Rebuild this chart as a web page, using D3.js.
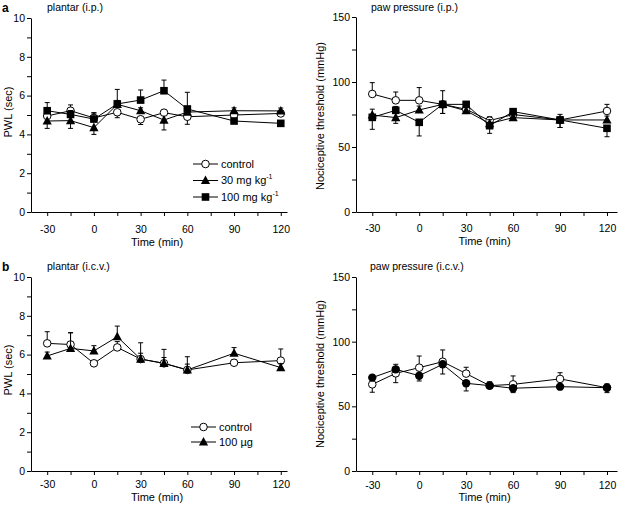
<!DOCTYPE html>
<html><head><meta charset="utf-8">
<script src="https://cdn.jsdelivr.net/npm/d3@7"></script>
<style>
body{margin:0;background:#fff;}
svg text{font-family:"Liberation Sans",Arial,Helvetica,sans-serif;fill:#000;}
</style></head>
<body><svg id="c" width="622" height="506"></svg>
<script>
// ---------- data ----------
const times = [-30, -15, 0, 15, 30, 45, 60, 90, 120];
const xTicks = [-30, 0, 30, 60, 90, 120];
const xMinorTicks = [-15, 15, 45, 75, 105];
const pwlTicks = [0, 2, 4, 6, 8, 10];
const pwlMinorTicks = [1, 3, 5, 7, 9];
const pawTicks = [0, 50, 100, 150];
const pawMinorTicks = [25, 75, 125];

// panel a, plantar (i.p.)  — signed error: + up, - down
const ipPwlControl    = [4.95, 5.22, 4.85, 5.14, 4.78, 5.12, 4.91, 5.00, 5.08];
const ipPwlControlErr = [0.2, 0.3, 0.25, -0.28, -0.27, 0.15, -0.39, 0.15, 0.15];
const ipPwl30         = [4.69, 4.71, 4.35, 5.55, 5.22, 4.74, 5.15, 5.22, 5.21];
const ipPwl30Err      = [-0.38, -0.4, -0.35, 0.2, 0.15, -0.51, 0.15, 0.15, 0.15];
const ipPwl100        = [5.22, 5.03, 4.79, 5.57, 5.77, 6.25, 5.31, 4.69, 4.57];
const ipPwl100Err     = [0.42, 0.2, 0.33, 0.75, 0.52, 0.55, 0.86, 0.1, 0.1];

// panel a, paw pressure (i.p.)
const ipPawControl    = [90.8, 85.9, 85.9, 82.8, 79.0, 70.3, 75.0, 70.8, 77.7];
const ipPawControlErr = [8.7, 6.4, 9.8, 10.5, 3, 3, 3, 4.3, 5.1];
const ipPaw30         = [74.6, 72.6, 78.5, 82.8, 77.9, 68.0, 72.6, 70.8, 70.8];
const ipPaw30Err      = [4.5, -4.4, 3, -7, 3, 3, 2, -5.8, 3];
const ipPaw100        = [72.8, 78.2, 69.0, 82.8, 82.8, 66.4, 77.2, 70.8, 64.4];
const ipPaw100Err     = [-9.2, 3, -10.5, -7, 2, -5.9, 2, -5.8, -6.5];

// panel b, plantar (i.c.v.)
const icvPwlControl    = [6.58, 6.52, 5.55, 6.37, 5.77, 5.55, 5.21, 5.58, 5.69];
const icvPwlControlErr = [0.6, 0.6, 0.15, 0.3, 0.84, 0.72, 0.68, 0.15, 0.6];
const icvPwl100        = [5.93, 6.32, 6.19, 6.92, 5.77, 5.55, 5.21, 6.07, 5.33];
const icvPwl100Err     = [0.2, 0.81, 0.27, 0.55, 0.3, 0.3, 0.3, 0.29, 0.2];

// panel b, paw pressure (i.c.v.)
const icvPawControl    = [67.0, 75.5, 79.9, 84.5, 75.3, 66.0, 67.0, 71.2, 64.4];
const icvPawControlErr = [-6.1, -7.2, 9, 9.1, 4.9, 3, 6.5, 4.8, -3.8];
const icvPaw100        = [72.2, 78.6, 73.7, 82.5, 67.8, 66.0, 64.0, 65.2, 64.4];
const icvPaw100Err     = [2, 3.9, -4.1, -7.5, -5.9, -2.3, -3.4, 1.5, 3];

// ---------- drawing ----------
const svg = d3.select("#c");
const fmt = d => String(d);

function marker(g, type, x, y) {
  if (type === "open") {
    g.append("circle").attr("cx", x).attr("cy", y).attr("r", 3.8)
      .attr("fill", "#fff").attr("stroke", "#000").attr("stroke-width", 1);
  } else if (type === "dot") {
    g.append("circle").attr("cx", x).attr("cy", y).attr("r", 4.2).attr("fill", "#000");
  } else if (type === "tri") {
    g.append("path").attr("d", `M${x},${y-5}L${x+4.6},${y+3.6}L${x-4.6},${y+3.6}Z`).attr("fill", "#000");
  } else if (type === "sq") {
    g.append("rect").attr("x", x-3.8).attr("y", y-3.8).attr("width", 7.6).attr("height", 7.6).attr("fill", "#000");
  }
}

function panel(cfg) {
  const g = svg.append("g");
  const x = d3.scaleLinear().domain(cfg.xDomain).range([cfg.left, cfg.right]);
  const y = d3.scaleLinear().domain(cfg.yDomain).range([cfg.bottom, cfg.top]);

  // axes
  g.append("g").attr("transform", `translate(${cfg.left},0)`)
    .call(d3.axisLeft(y).tickValues(cfg.yTicks).tickFormat(fmt).tickSize(4).tickSizeOuter(0).tickPadding(2));
  g.append("g").attr("transform", `translate(${cfg.left},0)`)
    .call(d3.axisLeft(y).tickValues(cfg.yMinor).tickSize(4).tickSizeOuter(0).tickFormat(""))
    .select(".domain").remove();
  g.append("g").attr("transform", `translate(0,${cfg.bottom})`)
    .call(d3.axisBottom(x).tickValues(xTicks).tickFormat(fmt).tickSize(4).tickSizeOuter(0).tickPadding(cfg.xPad));
  g.append("g").attr("transform", `translate(0,${cfg.bottom})`)
    .call(d3.axisBottom(x).tickValues(xMinorTicks).tickSize(4).tickSizeOuter(0).tickFormat(""))
    .select(".domain").remove();
  g.selectAll(".tick text").attr("font-size", 10.5).attr("font-family", "Liberation Sans, Arial, sans-serif");
  g.selectAll(".domain, .tick line").attr("stroke", "#000").attr("stroke-width", 1);

  // titles
  g.append("text").attr("x", (cfg.left + cfg.right) / 2 - 2).attr("y", cfg.bottom + cfg.xTitleOff)
    .attr("text-anchor", "middle").attr("font-size", 11).text("Time (min)");
  g.append("text").attr("transform", `translate(${cfg.yTitleX},${cfg.yTitleY}) rotate(-90)`)
    .attr("text-anchor", "middle").attr("font-size", 11).text(cfg.yTitle);
  g.append("text").attr("x", cfg.titleX).attr("y", cfg.titleY).attr("font-size", 10.5).text(cfg.title);
  if (cfg.letter) {
    g.append("text").attr("x", cfg.letterX).attr("y", cfg.titleY + 1).attr("font-size", 12)
      .attr("font-weight", "bold").text(cfg.letter);
  }

  const line = d3.line().x((d, i) => x(times[i])).y(d => y(d));
  cfg.series.forEach(s => {
    g.append("path").datum(s.values).attr("d", line).attr("fill", "none")
      .attr("stroke", "#000").attr("stroke-width", 1);
  });
  cfg.series.forEach(s => {
    s.values.forEach((v, i) => {
      const e = s.err[i];
      const xp = x(times[i]), y0 = y(v), y1 = y(v + e);
      g.append("line").attr("x1", xp).attr("x2", xp).attr("y1", y0).attr("y2", y1)
        .attr("stroke", "#000").attr("stroke-width", 1);
      g.append("line").attr("x1", xp - 2.5).attr("x2", xp + 2.5).attr("y1", y1).attr("y2", y1)
        .attr("stroke", "#000").attr("stroke-width", 1);
    });
    s.values.forEach((v, i) => marker(g, s.type, x(times[i]), y(v)));
  });

  if (cfg.legend) {
    cfg.legend.forEach((it, k) => {
      const ly = cfg.legendY + k * cfg.legendDY;
      g.append("line").attr("x1", cfg.legendX).attr("x2", cfg.legendX + 25).attr("y1", ly).attr("y2", ly)
        .attr("stroke", "#000").attr("stroke-width", 1);
      marker(g, it.type, cfg.legendX + 12.5, ly);
      const t = g.append("text").attr("x", cfg.legendX + 28).attr("y", ly + 3.8).attr("font-size", 11);
      t.append("tspan").text(it.label);
      if (it.sup) t.append("tspan").attr("font-size", 7).attr("dy", -5).text(it.sup);
    });
  }
}

panel({
  left: 31, right: 287, top: 18, bottom: 212, xDomain: [-40.4, 124], yDomain: [0, 10],
  yTicks: pwlTicks, yMinor: pwlMinorTicks, xPad: 10, xTitleOff: 34,
  yTitle: "PWL (sec)", yTitleX: 12, yTitleY: 112,
  title: "plantar (i.p.)", titleX: 47, titleY: 11, letter: "a", letterX: 2,
  series: [
    {values: ipPwlControl, err: ipPwlControlErr, type: "open"},
    {values: ipPwl30, err: ipPwl30Err, type: "tri"},
    {values: ipPwl100, err: ipPwl100Err, type: "sq"}
  ],
  legend: [
    {type: "open", label: "control"},
    {type: "tri", label: "30 mg kg", sup: "-1"},
    {type: "sq", label: "100 mg kg", sup: "-1"}
  ],
  legendX: 193, legendY: 164, legendDY: 16.5
});

panel({
  left: 356, right: 617, top: 17, bottom: 212, xDomain: [-40.4, 126.4], yDomain: [0, 150],
  yTicks: pawTicks, yMinor: pawMinorTicks, xPad: 9, xTitleOff: 33,
  yTitle: "Nociceptive threshold (mmHg)", yTitleX: 324, yTitleY: 116,
  title: "paw pressure (i.p.)", titleX: 371, titleY: 11,
  series: [
    {values: ipPawControl, err: ipPawControlErr, type: "open"},
    {values: ipPaw30, err: ipPaw30Err, type: "tri"},
    {values: ipPaw100, err: ipPaw100Err, type: "sq"}
  ]
});

panel({
  left: 31, right: 287, top: 277, bottom: 471, xDomain: [-40.4, 124], yDomain: [0, 10],
  yTicks: pwlTicks, yMinor: pwlMinorTicks, xPad: 6, xTitleOff: 30,
  yTitle: "PWL (sec)", yTitleX: 12, yTitleY: 370,
  title: "plantar (i.c.v.)", titleX: 47, titleY: 270, letter: "b", letterX: 2,
  series: [
    {values: icvPwlControl, err: icvPwlControlErr, type: "open"},
    {values: icvPwl100, err: icvPwl100Err, type: "tri"}
  ],
  legend: [
    {type: "open", label: " control"},
    {type: "tri", label: "100 µg"}
  ],
  legendX: 191, legendY: 427, legendDY: 15
});

panel({
  left: 356, right: 617, top: 277, bottom: 471, xDomain: [-40.4, 126.4], yDomain: [0, 150],
  yTicks: pawTicks, yMinor: pawMinorTicks, xPad: 7, xTitleOff: 30,
  yTitle: "Nociceptive threshold (mmHg)", yTitleX: 324, yTitleY: 374,
  title: "paw pressure (i.c.v.)", titleX: 370, titleY: 270,
  series: [
    {values: icvPawControl, err: icvPawControlErr, type: "open"},
    {values: icvPaw100, err: icvPaw100Err, type: "dot"}
  ]
});
</script></body></html>
